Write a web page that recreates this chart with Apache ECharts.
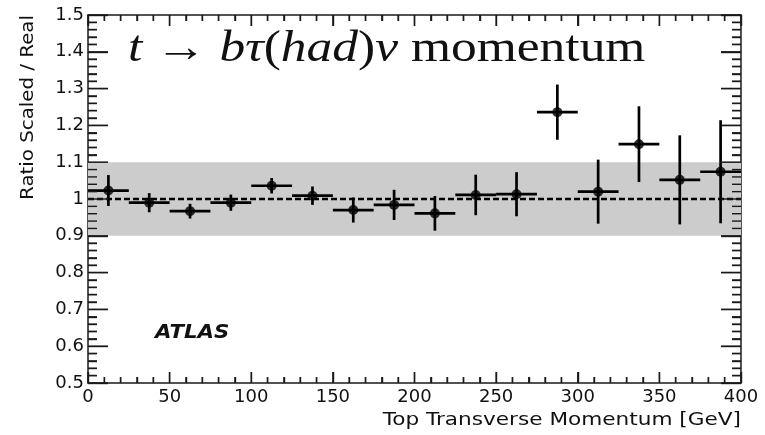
<!DOCTYPE html>
<html>
<head>
<meta charset="utf-8">
<script src="https://cdn.jsdelivr.net/npm/echarts@6/dist/echarts.min.js"></script>
<style>
html,body{margin:0;padding:0;background:#fff;}
#chart{width:765px;height:435px;}
</style>
</head>
<body>
<div id="chart"></div>
<script>
// ---- data ----
var binCenters = [12.5, 37.5, 62.5, 87.5, 112.5, 137.5, 162.5, 187.5, 212.5, 237.5, 262.5, 287.5, 312.5, 337.5, 362.5, 387.5];
var binHalfWidth = 12.5;
var ratio = [1.023, 0.990, 0.967, 0.990, 1.036, 1.009, 0.970, 0.984, 0.961, 1.011, 1.013, 1.236, 1.020, 1.149, 1.052, 1.074];
var ratioErr = [0.042, 0.026, 0.020, 0.022, 0.021, 0.025, 0.034, 0.041, 0.047, 0.055, 0.060, 0.075, 0.087, 0.103, 0.121, 0.140];
var bandLow = 0.9;
var bandHigh = 1.1;
var refLevel = 1.0;
var xRange = [0, 400];
var yRange = [0.5, 1.5];
var xTickStep = 50;
var yTickStep = 0.1;
var minorDivisions = 5;
var titleParts = ['t → bτ', '(', 'had', ')', 'ν', ' momentum'];
var xTitle = 'Top Transverse Momentum [GeV]';
var yTitle = 'Ratio Scaled / Real';
var tagText = 'ATLAS';

// ---- chart ----
var chart = echarts.init(document.getElementById('chart'), null, {renderer: 'canvas'});

var errData = binCenters.map(function (x, i) { return [x, ratio[i], ratioErr[i]]; });
var pointData = binCenters.map(function (x, i) { return [x, ratio[i]]; });

// frame ticks: [xValue, yValue, orientation (0 = on x frame, 1 = on y frame), major]
var tickData = [];
(function () {
  var nx = Math.round((xRange[1] - xRange[0]) / xTickStep * minorDivisions);
  for (var i = 0; i <= nx; i++) {
    var xv = xRange[0] + i * xTickStep / minorDivisions;
    var mj = (i % minorDivisions === 0) ? 1 : 0;
    tickData.push([xv, yRange[0], 0, mj]);
  }
  var ny = Math.round((yRange[1] - yRange[0]) / yTickStep * minorDivisions);
  for (var j = 0; j <= ny; j++) {
    var yv = yRange[0] + j * yTickStep / minorDivisions;
    var mj2 = (j % minorDivisions === 0) ? 1 : 0;
    tickData.push([xRange[0], yv, 1, mj2]);
  }
})();

var sansFont = 'DejaVu Sans';
var frameColor = '#1a1a1a';

function makeX(pos, showLabel) {
  return {
    type: 'value', position: pos, min: xRange[0], max: xRange[1], interval: xTickStep,
    axisLine: {show: true, onZero: false, lineStyle: {color: frameColor, width: 1.5}},
    axisTick: {show: true, inside: true, length: 11, lineStyle: {color: frameColor, width: 1.4}},
    minorTick: {show: true, splitNumber: minorDivisions, length: 6, lineStyle: {color: frameColor, width: 1.4}},
    splitLine: {show: false},
    axisLabel: {show: showLabel, fontFamily: sansFont, fontSize: 18, color: '#111', margin: 5}
  };
}
function makeY(pos, showLabel) {
  return {
    type: 'value', position: pos, min: yRange[0], max: yRange[1], interval: yTickStep,
    axisLine: {show: true, onZero: false, lineStyle: {color: frameColor, width: 1.5}},
    axisTick: {show: true, inside: true, length: 20, lineStyle: {color: frameColor, width: 1.4}},
    minorTick: {show: true, splitNumber: minorDivisions, length: 9, lineStyle: {color: frameColor, width: 1.4}},
    splitLine: {show: false},
    axisLabel: {show: showLabel, fontFamily: sansFont, fontSize: 18, color: '#111', margin: 4,
      formatter: function (v) { return (Math.round(v * 10) / 10).toString(); }}
  };
}

var option = {
  animation: false,
  grid: {left: 88, top: 15, width: 653, height: 368},
  xAxis: [makeX('bottom', true), makeX('top', false)],
  yAxis: [makeY('left', true), makeY('right', false)],
  graphic: [
    {
      type: 'text', x: 128, y: 27, scaleX: 1.17, z: 20,
      style: {
        rich: {
          it: {fontFamily: 'Liberation Serif', fontStyle: 'italic', fontSize: 44, fill: '#111'},
          rm: {fontFamily: 'Liberation Serif', fontSize: 44, fill: '#111'}
        },
        text: '{it|' + titleParts[0] + '}{rm|' + titleParts[1] + '}{it|' + titleParts[2] + '}{rm|' + titleParts[3] + '}{it|' + titleParts[4] + '}{rm|' + titleParts[5] + '}'
      }
    },
    {
      type: 'text', x: 155, y: 324, scaleX: 1.12, z: 20,
      style: {text: tagText, fontFamily: sansFont, fontWeight: 'bold', fontStyle: 'italic', fontSize: 19, fill: '#111'}
    },
    {
      type: 'text', x: 28, y: 15, rotation: Math.PI / 2, scaleX: 1.1, z: 20,
      style: {text: yTitle, fontFamily: sansFont, fontSize: 18, fill: '#111', align: 'right', verticalAlign: 'middle'}
    },
    {
      type: 'text', x: 741, y: 411, scaleX: 1.2, z: 20,
      style: {text: xTitle, fontFamily: sansFont, fontSize: 18, fill: '#111', align: 'right', verticalAlign: 'top'}
    }
  ],
  series: [
    {
      type: 'line', name: 'ref', data: [[xRange[0], refLevel], [xRange[1], refLevel]],
      symbol: 'none', silent: true, z: 3,
      lineStyle: {color: '#000', width: 2.4, type: [6, 3]},
      markArea: {
        silent: true,
        itemStyle: {color: '#cccccc', opacity: 1},
        data: [[{xAxis: xRange[0], yAxis: bandLow}, {xAxis: xRange[1], yAxis: bandHigh}]]
      }
    },
    {
      type: 'custom', name: 'errors', data: errData, z: 4, silent: true,
      renderItem: function (params, api) {
        var x = api.value(0), y = api.value(1), e = api.value(2);
        var pL = api.coord([x - binHalfWidth, y]);
        var pR = api.coord([x + binHalfWidth, y]);
        var pT = api.coord([x, y + e]);
        var pB = api.coord([x, y - e]);
        var st = {stroke: '#000', lineWidth: 2.7};
        return {
          type: 'group',
          children: [
            {type: 'line', shape: {x1: pL[0], y1: pL[1], x2: pR[0], y2: pR[1]}, style: st},
            {type: 'line', shape: {x1: pT[0], y1: pT[1], x2: pB[0], y2: pB[1]}, style: st}
          ]
        };
      }
    },
    {
      type: 'scatter', name: 'ratio', data: pointData, z: 5, silent: true,
      symbol: 'circle', symbolSize: 10, itemStyle: {color: '#000'}
    },
    {
      type: 'custom', name: 'frameTicks', data: tickData, z: 20, silent: true,
      renderItem: function (params, api) {
        var xv = api.value(0), yv = api.value(1), orient = api.value(2), major = api.value(3);
        var st = {stroke: '#1a1a1a', lineWidth: 1.4};
        var a, b, len;
        if (orient < 0.5) {
          len = major > 0.5 ? 11 : 6;
          a = api.coord([xv, yRange[0]]);
          b = api.coord([xv, yRange[1]]);
          return {type: 'group', children: [
            {type: 'line', shape: {x1: a[0], y1: a[1], x2: a[0], y2: a[1] - len}, style: st},
            {type: 'line', shape: {x1: b[0], y1: b[1], x2: b[0], y2: b[1] + len}, style: st}
          ]};
        }
        len = major > 0.5 ? 20 : 9;
        a = api.coord([xRange[0], yv]);
        b = api.coord([xRange[1], yv]);
        return {type: 'group', children: [
          {type: 'line', shape: {x1: a[0], y1: a[1], x2: a[0] + len, y2: a[1]}, style: st},
          {type: 'line', shape: {x1: b[0], y1: b[1], x2: b[0] - len, y2: b[1]}, style: st}
        ]};
      }
    }
  ]
};
chart.setOption(option);
</script>
</body>
</html>
